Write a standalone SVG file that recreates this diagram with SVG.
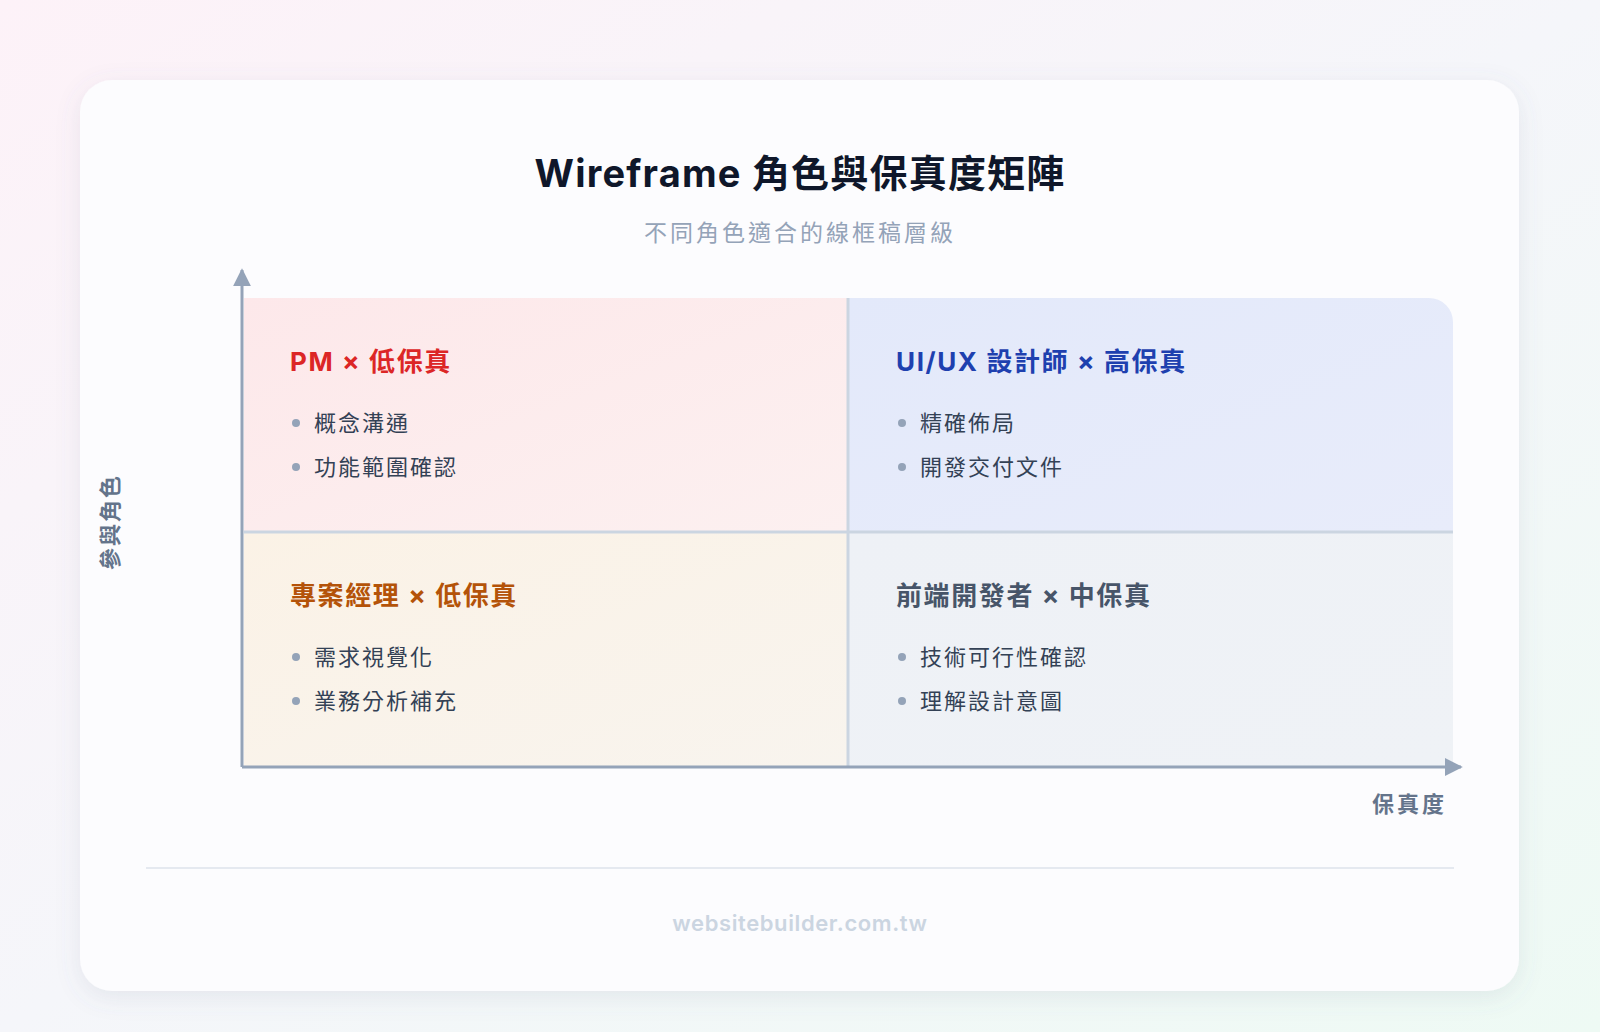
<svg xmlns="http://www.w3.org/2000/svg" width="1600" height="1032" viewBox="0 0 1600 1032">
<defs>
<linearGradient id="bg" x1="0" y1="0" x2="1" y2="1"><stop offset="0" stop-color="#fdf2f8"/><stop offset="0.5" stop-color="#f5f6fa"/><stop offset="1" stop-color="#eefaf4"/></linearGradient>
<linearGradient id="tl" x1="0" y1="0" x2="1" y2="1"><stop offset="0" stop-color="#fde8ea"/><stop offset="1" stop-color="#fcf0f0"/></linearGradient>
<linearGradient id="tr" x1="0" y1="0" x2="1" y2="1"><stop offset="0" stop-color="#e3e9fa"/><stop offset="1" stop-color="#e8ecfa"/></linearGradient>
<linearGradient id="bl" x1="0" y1="0" x2="1" y2="1"><stop offset="0" stop-color="#fbf2e6"/><stop offset="1" stop-color="#f8f4ee"/></linearGradient>
<linearGradient id="br" x1="0" y1="0" x2="1" y2="1"><stop offset="0" stop-color="#eef1f6"/><stop offset="1" stop-color="#eff2f6"/></linearGradient>
<filter id="sh" x="-10%" y="-10%" width="120%" height="120%"><feDropShadow dx="0" dy="6" stdDeviation="12" flood-color="#64748b" flood-opacity="0.12"/></filter>
<marker id="ah" viewBox="0 0 10 10" refX="9" refY="5" markerWidth="6" markerHeight="6" orient="auto-start-reverse"><path d="M0,0 L10,5 L0,10 z" fill="#94a3b8"/></marker>
</defs>
<style>
text{font-family:"Inter","Noto Sans CJK TC",sans-serif}
.h{font-size:26px;font-weight:700;letter-spacing:1.6px}
.b{font-size:22px;fill:#334155;letter-spacing:2px}
.d{fill:#94a3b8}
.ax{stroke:#94a3b8;stroke-width:3;fill:none}
</style>
<rect width="1600" height="1032" fill="url(#bg)"/>
<rect x="80" y="80" width="1439" height="911" rx="32" fill="#fcfcfe" filter="url(#sh)"/>
<text x="800" y="187" text-anchor="middle" font-size="38" font-weight="700" fill="#0f172a" letter-spacing="1.2">Wireframe 角色與保真度矩陣</text>
<text x="800" y="241" text-anchor="middle" font-size="23" fill="#94a3b8" letter-spacing="3">不同角色適合的線框稿層級</text>
<g id="q-tl"><rect x="244" y="298" width="604" height="234" fill="url(#tl)"/>
<text x="290" y="371" class="h" fill="#dc2626">PM × 低保真</text>
<circle cx="296" cy="423" r="4" class="d"/><text x="314" y="431" class="b">概念溝通</text>
<circle cx="296" cy="467" r="4" class="d"/><text x="314" y="475" class="b">功能範圍確認</text></g>
<g id="q-tr"><path d="M848,298 H1429 A24,24 0 0 1 1453,322 V532 H848 Z" fill="url(#tr)"/>
<text x="896" y="371" class="h" fill="#1e40af">UI/UX 設計師 × 高保真</text>
<circle cx="902" cy="423" r="4" class="d"/><text x="920" y="431" class="b">精確佈局</text>
<circle cx="902" cy="467" r="4" class="d"/><text x="920" y="475" class="b">開發交付文件</text></g>
<g id="q-bl"><rect x="244" y="532" width="604" height="234" fill="url(#bl)"/>
<text x="290" y="605" class="h" fill="#b45309">專案經理 × 低保真</text>
<circle cx="296" cy="657" r="4" class="d"/><text x="314" y="665" class="b">需求視覺化</text>
<circle cx="296" cy="701" r="4" class="d"/><text x="314" y="709" class="b">業務分析補充</text></g>
<g id="q-br"><rect x="848" y="532" width="605" height="234" fill="url(#br)"/>
<text x="896" y="605" class="h" fill="#475569">前端開發者 × 中保真</text>
<circle cx="902" cy="657" r="4" class="d"/><text x="920" y="665" class="b">技術可行性確認</text>
<circle cx="902" cy="701" r="4" class="d"/><text x="920" y="709" class="b">理解設計意圖</text></g>
<g id="connectors">
<line x1="244" y1="532" x2="1453" y2="532" stroke="#cbd5e1" stroke-width="3"/>
<line x1="848" y1="298" x2="848" y2="766" stroke="#cbd5e1" stroke-width="3"/>
<line x1="242" y1="767" x2="242" y2="270" class="ax" marker-end="url(#ah)"/>
<line x1="242" y1="767" x2="1461" y2="767" class="ax" marker-end="url(#ah)"/>
</g>
<text transform="translate(118,522) rotate(-90)" text-anchor="middle" font-size="22" font-weight="700" fill="#64748b" letter-spacing="2">參與角色</text>
<text x="1447" y="812" text-anchor="end" font-size="22" font-weight="700" fill="#64748b" letter-spacing="3">保真度</text>
<line x1="146" y1="868" x2="1454" y2="868" stroke="#e5e9f0" stroke-width="2"/>
<text x="800" y="931" text-anchor="middle" font-size="22" font-weight="600" fill="#cbd5e1" letter-spacing="0.6">websitebuilder.com.tw</text>
</svg>
